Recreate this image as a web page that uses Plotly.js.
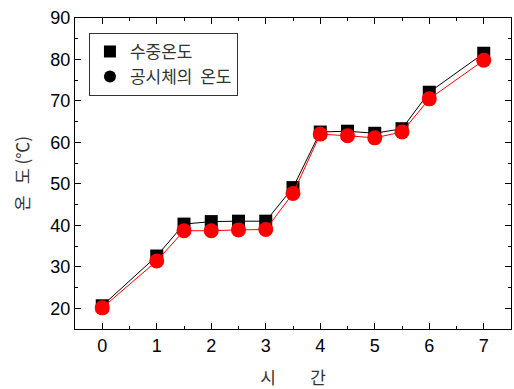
<!DOCTYPE html>
<html>
<head>
<meta charset="utf-8">
<script src="https://cdn.plot.ly/plotly-3.0.1.min.js"></script>
<style>body{margin:0;padding:0;background:#fff}#chart{width:514px;height:389px}</style>
</head>
<body>
<div id="chart"></div>
<script>
const timeHours = [0, 1, 1.5, 2, 2.5, 3, 3.5, 4, 4.5, 5, 5.5, 6, 7];
const waterTemp = [20.6, 32.6, 40.3, 40.9, 41.0, 41.0, 49.1, 62.5, 62.7, 62.2, 63.3, 72.1, 81.5];
const specimenTemp = [20.1, 31.4, 38.7, 38.7, 38.9, 39.0, 47.7, 62.0, 61.6, 61.1, 62.5, 70.5, 79.8];
const seriesNames = ['수중온도', '공시체의\u00a0\u00a0온도'];
const xTicks = [0, 1, 2, 3, 4, 5, 6, 7];
const yTicks = [20, 30, 40, 50, 60, 70, 80, 90];

const traces = [
  {x: timeHours, y: waterTemp, name: seriesNames[0], type: 'scatter', mode: 'lines+markers', showlegend: false,
   line: {color: '#000000', width: 1}, marker: {symbol: 'square', size: 13, color: '#000000'}},
  {x: timeHours, y: specimenTemp, name: seriesNames[1], type: 'scatter', mode: 'lines+markers', showlegend: false,
   line: {color: '#ff0000', width: 1}, marker: {symbol: 'circle', size: 15, color: '#ff0000'}},
  // legend entries (markers only, as in the reference legend)
  {x: [null], y: [null], name: seriesNames[0], type: 'scatter', mode: 'markers',
   marker: {symbol: 'square', size: 14, color: '#000000'}},
  {x: [null], y: [null], name: seriesNames[1], type: 'scatter', mode: 'markers',
   marker: {symbol: 'circle', size: 16, color: '#000000'}}
];

const layout = {
  width: 514, height: 389,
  margin: {l: 75, r: 3, t: 18, b: 60},
  paper_bgcolor: '#ffffff', plot_bgcolor: '#ffffff',
  font: {family: 'Liberation Sans, Arial, sans-serif', color: '#000'},
  showlegend: true,
  legend: {x: 0.032, y: 0.952, xanchor: 'left', yanchor: 'top', bordercolor: '#333', borderwidth: 1,
    bgcolor: '#fff', font: {family: 'Noto Sans CJK KR, sans-serif', size: 17, color: '#333'},
    itemwidth: 30, itemsizing: 'constant', tracegroupgap: 0},
  xaxis: {range: [-0.5, 7.5], tickvals: xTicks, ticks: 'inside', ticklen: 6, tickcolor: '#000',
    showline: true, linecolor: '#000', linewidth: 1, mirror: 'ticks', showgrid: false, zeroline: false,
    tickfont: {size: 18, color: '#000'},
    minor: {dtick: 0.5, ticks: 'inside', ticklen: 3, tickcolor: '#000'},
    title: {text: '시\u00a0\u00a0\u00a0\u00a0\u00a0\u00a0\u00a0\u00a0\u00a0간', font: {family: 'Noto Sans CJK KR, sans-serif', size: 17, color: '#333'}, standoff: 18}},
  yaxis: {range: [15, 90], tickvals: yTicks, ticks: 'inside', ticklen: 6, tickcolor: '#000',
    showline: true, linecolor: '#000', linewidth: 1, mirror: 'ticks', showgrid: false, zeroline: false,
    tickfont: {size: 18, color: '#000'},
    minor: {dtick: 5, ticks: 'inside', ticklen: 3, tickcolor: '#000'},
    title: {text: '온\u00a0\u00a0\u00a0도\u00a0(℃)', font: {family: 'Noto Sans CJK KR, sans-serif', size: 17, color: '#333'}, standoff: 16}}
};

Plotly.newPlot('chart', traces, layout, {displayModeBar: false, staticPlot: true});
</script>
</body>
</html>
